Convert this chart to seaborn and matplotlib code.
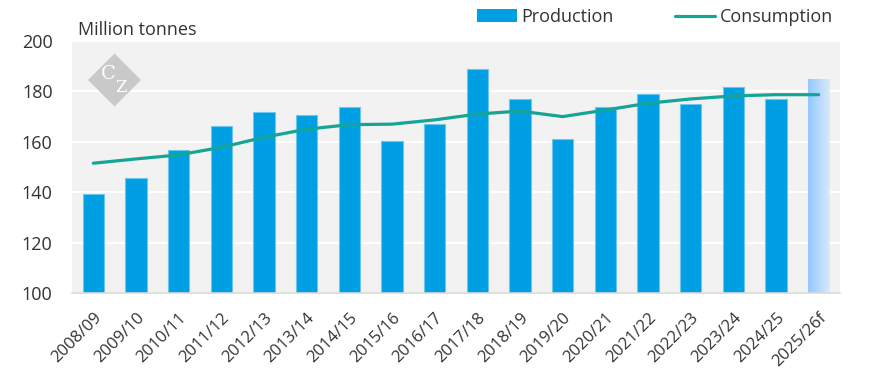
import numpy as np
import matplotlib
matplotlib.use("Agg")
import matplotlib.pyplot as plt
import seaborn as sns
from matplotlib.patches import Patch, Polygon
from matplotlib.lines import Line2D

# Values (million tonnes)
seasons = ["2008/09", "2009/10", "2010/11", "2011/12", "2012/13", "2013/14",
           "2014/15", "2015/16", "2016/17", "2017/18", "2018/19", "2019/20",
           "2020/21", "2021/22", "2022/23", "2023/24", "2024/25", "2025/26f"]
production = [139.3, 145.6, 156.6, 166.2, 172.0, 170.6, 174.0, 160.3, 167.0,
              188.8, 177.0, 161.0, 174.0, 178.8, 175.0, 181.7, 177.0, 185.0]
consumption = [151.5, 153.2, 154.8, 157.8, 161.8, 165.0, 166.8, 167.0, 168.7,
               171.0, 172.2, 170.0, 172.6, 175.3, 177.0, 178.2, 178.7, 178.7]

BAR = "#009FE3"
LINE = "#15A596"
BG = "#F2F2F2"

sns.set_style("white")
plt.rcParams["font.family"] = ["Open Sans", "DejaVu Sans"]
plt.rcParams["text.color"] = "#333333"

fig = plt.figure(figsize=(8.83, 3.90), dpi=100)
ax = fig.add_axes([72 / 883, 1 - 293 / 390, 768 / 883, 252 / 390])
ax.set_facecolor(BG)

x = np.arange(len(seasons))
colors = [BAR] * (len(seasons) - 1) + ["none"]
sns.barplot(x=seasons, y=production, palette=colors, hue=seasons, legend=False,
            saturation=1, width=0.5, edgecolor="#6CC6EE", linewidth=0.8,
            ax=ax, zorder=2)

# forecast bar with a horizontal light-blue gradient
last = ax.patches[-1]
last.set_edgecolor("none")
x0, w = last.get_x(), last.get_width()
grad = np.linspace(0, 1, 64).reshape(1, -1)
cmap = matplotlib.colors.LinearSegmentedColormap.from_list("fc", ["#93C8FF", "#D8EAFB"])
im = ax.imshow(grad, cmap=cmap, extent=[x0, x0 + w, 100, production[-1]],
               aspect="auto", zorder=2)
im.set_clip_path(last)

sns.lineplot(x=x, y=consumption, color=LINE, linewidth=2.3, ax=ax, zorder=3,
             solid_capstyle="round", solid_joinstyle="round")

ax.set_xlim(-0.5, len(seasons) - 0.5)
ax.set_ylim(100, 200)
ax.set_yticks([100, 120, 140, 160, 180, 200])
ax.yaxis.grid(True, color="white", linewidth=1.6, zorder=1)
ax.set_axisbelow(True)
for s in ["top", "right", "left"]:
    ax.spines[s].set_visible(False)
ax.spines["bottom"].set_color("#D9D9D9")
ax.spines["bottom"].set_linewidth(1.2)
ax.set_zorder(1)

ax.set_xticks(x)
ax.set_xticklabels(seasons, rotation=45, ha="right", rotation_mode="anchor",
                   fontsize=12, color="#333333")
ax.tick_params(axis="x", length=0, pad=12)
ax.set_xticks(np.arange(-0.5, len(seasons), 1), minor=True)
ax.tick_params(axis="x", which="minor", length=6, color="#D9D9D9", width=1.2)
ax.tick_params(axis="y", length=0, pad=14, labelsize=13, labelcolor="#333333")
ax.set_xlabel("")
ax.set_ylabel("")

fig.text(78 / 883, 1 - 35 / 390, "Million tonnes", fontsize=13, va="baseline",
         color="#333333")

# watermark
cx, cy, r = 114.5, 80, 26.5
pts = [((cx) / 883, 1 - (cy - r) / 390), ((cx + r) / 883, 1 - cy / 390),
       ((cx) / 883, 1 - (cy + r) / 390), ((cx - r) / 883, 1 - cy / 390)]
fig.patches.append(Polygon(pts, closed=True, transform=fig.transFigure,
                           facecolor="#C9C9C9", edgecolor="none", zorder=5))
fig.text((cx - 6) / 883, 1 - (cy - 6) / 390, "C", fontsize=14, family="DejaVu Serif",
         color="white", ha="center", va="center", zorder=6)
fig.text((cx + 6.5) / 883, 1 - (cy + 8) / 390, "Z", fontsize=12, family="DejaVu Serif",
         color="white", ha="center", va="center", zorder=6)

handles = [Patch(facecolor=BAR, edgecolor="none"),
           Line2D([0], [0], color=LINE, linewidth=2.3)]
fig.legend(handles, ["Production", "Consumption"], loc="center",
           bbox_to_anchor=(655 / 883, 1 - 17 / 390), ncol=2, frameon=False,
           fontsize=13, handlelength=2.2, handletextpad=0.25, columnspacing=3.4,
           borderpad=0)

fig.savefig("out.png", dpi=100)
